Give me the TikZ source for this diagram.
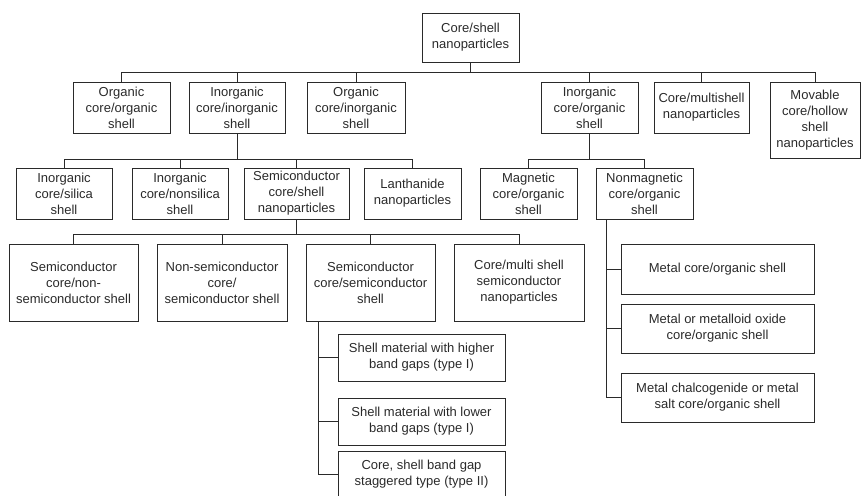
\documentclass[tikz,border=0pt]{standalone}
\usepackage{fontspec}
\setmainfont{Liberation Sans}
\definecolor{ink}{HTML}{2A2A2A}
\begin{document}
\begin{tikzpicture}[x=1pt,y=-1pt,
  box/.style={draw=ink,line width=0.9pt,text=ink,align=center,inner sep=1pt,
    font=\fontsize{13}{16}\selectfont},
  link/.style={draw=ink,line width=0.9pt}]
\useasboundingbox (0,0) rectangle (861,495);

% root
\node[box,minimum width=97,minimum height=49] (root) at (470.5,37.5) {Core/shell\\nanoparticles};

% first level
\node[box,minimum width=97,minimum height=51] (oo) at (121.5,107.5) {Organic\\core/organic\\shell};
\node[box,minimum width=96,minimum height=51] (ii) at (237,107.5) {Inorganic\\core/inorganic\\shell};
\node[box,minimum width=98,minimum height=51] (oi) at (356,107.5) {Organic\\core/inorganic\\shell};
\node[box,minimum width=97,minimum height=51] (io) at (589.5,107.5) {Inorganic\\core/organic\\shell};
\node[box,minimum width=95,minimum height=51] (ms) at (701.5,107.5) {Core/multishell\\nanoparticles};
\node[box,minimum width=90,minimum height=76] (mv) at (815,120) {Movable\\core/hollow\\shell\\nanoparticles};

% second level
\node[box,minimum width=96,minimum height=51] (cs) at (64,193.5) {Inorganic\\core/silica\\shell};
\node[box,minimum width=96,minimum height=51] (cn) at (180,193.5) {Inorganic\\core/nonsilica\\shell};
\node[box,minimum width=105,minimum height=51] (sc) at (296.5,193.5) {Semiconductor\\core/shell\\nanoparticles};
\node[box,minimum width=97,minimum height=51] (ln) at (412.5,193.5) {Lanthanide\\nanoparticles};
\node[box,minimum width=97,minimum height=51] (mg) at (528.5,193.5) {Magnetic\\core/organic\\shell};
\node[box,minimum width=97,minimum height=51] (nm) at (644.5,193.5) {Nonmagnetic\\core/organic\\shell};

% third level
\node[box,minimum width=129,minimum height=77] (snn) at (73.5,282.5) {Semiconductor\\core/non-\\semiconductor shell};
\node[box,minimum width=130,minimum height=77] (nss) at (222,282.5) {Non-semiconductor\\core/\\semiconductor shell};
\node[box,minimum width=129,minimum height=77] (sss) at (370.5,282.5) {Semiconductor\\core/semiconductor\\shell};
\node[box,minimum width=130,minimum height=77] (cms) at (519,282.5) {Core/multi shell\\semiconductor\\nanoparticles};

% band gap types
\node[box,minimum width=167,minimum height=47] (hi) at (421.5,357.5) {Shell material with higher\\band gaps (type I)};
\node[box,minimum width=167,minimum height=47] (lo) at (421.5,421.5) {Shell material with lower\\band gaps (type I)};
\node[box,minimum width=167,minimum height=47] (st) at (421.5,474.5) {Core, shell band gap\\staggered type (type II)};

% nonmagnetic subtypes
\node[box,minimum width=193,minimum height=50] (mc) at (717.5,269) {Metal core/organic shell};
\node[box,minimum width=193,minimum height=49] (mo) at (717.5,328.5) {Metal or metalloid oxide\\core/organic shell};
\node[box,minimum width=193,minimum height=49] (ch) at (717.5,397.5) {Metal chalcogenide or metal\\salt core/organic shell};

% tree connectors
\foreach \c in {oo,ii,oi,io,ms,mv}
  \draw[link] (root.south) -- ++(0,10) -| (\c.north);
\foreach \c in {cs,cn,sc,ln}
  \draw[link] (ii.south) -- ++(0,26) -| (\c.north);
\foreach \c in {mg,nm}
  \draw[link] (io.south) -- ++(0,26) -| (\c.north);
\foreach \c in {snn,nss,sss,cms}
  \draw[link] (sc.south) -- ++(0,15) -| (\c.north);
\foreach \c in {hi,lo,st}
  \draw[link] ([xshift=13]sss.south west) |- (\c.west);
\foreach \c in {mc,mo,ch}
  \draw[link] ([xshift=11]nm.south west) |- (\c.west);
\end{tikzpicture}
\end{document}
